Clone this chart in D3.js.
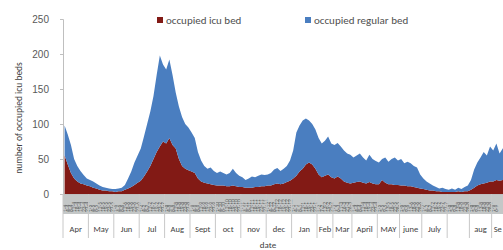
<!DOCTYPE html>
<html>
<head>
<meta charset="utf-8">
<script src="https://cdn.jsdelivr.net/npm/d3@7"></script>
<style>
  body { margin: 0; background: #fff; }
  svg { display: block; font-family: Calibri, "Liberation Sans", "DejaVu Sans", sans-serif; }
</style>
</head>
<body>
<div id="chart"></div>
<script>
// month groups on the category axis and how many data points fall in each
const monthLabels = ["Apr", "May", "Jun", "Jul", "Aug", "Sept", "oct", "nov", "dec", "Jan",
                     "Feb", "Mar", "April", "MAY", "june", "July", "", "aug", "Se"];
const monthNums   = [4, 5, 6, 7, 8, 9, 10, 11, 12, 1, 2, 3, 4, 5, 6, 7, 8, 8, 9];
const monthPoints = [8, 8, 8, 8, 8, 8, 8, 8, 8, 8, 5, 6, 8, 7, 7, 8, 7, 7, 6];

// occupied icu beds, one value per point
const icuBeds = [
  55, 42, 30, 22, 18, 15, 14, 12, 11, 9, 8, 6, 5, 5, 4, 4, 3, 4, 4, 6,
  8, 10, 13, 16, 19, 25, 32, 40, 50, 60, 68, 75, 72, 80, 70, 65, 50, 40, 36, 34,
  32, 30, 22, 18, 16, 15, 14, 13, 12, 12, 12, 11, 11, 12, 11, 10, 10, 9, 9, 9,
  10, 10, 11, 11, 12, 12, 14, 15, 14, 15, 17, 19, 22, 26, 32, 36, 42, 45, 42, 36,
  28, 24, 26, 28, 24, 22, 25, 22, 18, 16, 15, 16, 17, 18, 16, 15, 17, 15, 14, 14,
  20, 16, 14, 14, 13, 13, 12, 12, 11, 11, 10, 9, 8, 7, 6, 5, 5, 4, 4, 3,
  3, 3, 3, 3, 4, 3, 4, 4, 6, 9, 12, 14, 15, 16, 18, 18, 20, 19, 20, 20, 21
];

// occupied regular beds, one value per point
const regularBeds = [
  43, 43, 40, 28, 22, 18, 13, 10, 9, 9, 7, 6, 5, 4, 4, 3, 4, 4, 5, 7,
  14, 22, 32, 39, 46, 57, 68, 78, 90, 110, 130, 110, 106, 112, 100, 80, 75, 70, 64, 61,
  56, 50, 38, 30, 24, 21, 24, 20, 18, 20, 18, 17, 19, 24, 19, 16, 14, 11, 13, 16,
  14, 16, 17, 16, 16, 18, 21, 22, 19, 21, 23, 29, 40, 62, 66, 69, 66, 60, 58, 56,
  52, 48, 50, 54, 48, 48, 48, 46, 44, 42, 41, 36, 38, 40, 36, 33, 39, 35, 33, 31,
  30, 36, 32, 36, 39, 35, 38, 32, 35, 33, 30, 29, 20, 15, 12, 10, 7, 6, 4, 6,
  4, 3, 5, 3, 5, 4, 6, 8, 14, 26, 33, 38, 45, 39, 50, 44, 52, 39, 45, 50, 47
];

const yTicks = [0, 50, 100, 150, 200, 250];

const width = 503, height = 250;
const plotLeft = 63, plotTop = 19, plotBottom = 194;
const step = 3.175;
const nPoints = d3.sum(monthPoints);

const red = "#821a15", blue = "#4a7ec0";

const svg = d3.select("#chart").append("svg")
  .attr("width", width)
  .attr("height", height);

const x = d3.scaleLinear().domain([0, nPoints]).range([plotLeft, plotLeft + nPoints * step]);
const y = d3.scaleLinear().domain([0, 250]).range([plotBottom, plotTop]);

// build rows for the stack
const rows = icuBeds.map((v, i) => ({ i: i, icu: v, regular: regularBeds[i] }));
const stacked = d3.stack().keys(["icu", "regular"])(rows);

svg.append("clipPath").attr("id", "plotclip")
  .append("rect").attr("x", plotLeft).attr("y", 0).attr("width", width - plotLeft).attr("height", plotBottom + 1);

const area = d3.area()
  .x(d => x(d.data.i + 0.5))
  .y0(d => y(d[0]))
  .y1(d => y(d[1]))
  .curve(d3.curveLinear);

svg.append("g").attr("clip-path", "url(#plotclip)")
  .selectAll("path")
  .data(stacked)
  .join("path")
  .attr("fill", d => d.key === "icu" ? red : blue)
  .attr("d", area);

// y axis
const yAxis = svg.append("g")
  .attr("transform", `translate(${plotLeft},0)`)
  .call(d3.axisLeft(y).tickValues(yTicks).tickSize(3).tickPadding(11));
yAxis.select(".domain").attr("stroke", "#bfbfbf");
yAxis.selectAll(".tick line").attr("stroke", "#bfbfbf");
yAxis.selectAll(".tick text").attr("fill", "#595959").attr("font-size", 10);

svg.append("text")
  .attr("transform", `translate(22,118) rotate(-90)`)
  .attr("text-anchor", "middle")
  .attr("fill", "#404040")
  .attr("font-size", 9.5)
  .text("number of occupied icu beds");

// month boundaries
let acc = 0;
const months = monthLabels.map((m, k) => {
  const o = { label: m, num: monthNums[k], start: acc, end: acc + monthPoints[k], n: monthPoints[k] };
  acc += monthPoints[k];
  return o;
});

// band of daily date labels under the axis
svg.append("clipPath").attr("id", "bandclip")
  .append("rect").attr("x", plotLeft).attr("y", plotBottom).attr("width", width - plotLeft).attr("height", 22);
const band = svg.append("g").attr("clip-path", "url(#bandclip)");

band.append("rect")
  .attr("x", plotLeft).attr("y", plotBottom + 1)
  .attr("width", x(nPoints) - plotLeft).attr("height", 19)
  .attr("fill", "#c4c7c7");

const dayLabels = [];
months.forEach(mo => {
  for (let j = 0; j < mo.n; j++) {
    dayLabels.push({ i: mo.start + j, text: `${1 + Math.floor(j * 30 / mo.n)}-${mo.num}` });
  }
});

band.selectAll("text.day")
  .data(dayLabels.filter(d => x(d.i + 0.5) + 2 < width - 3))
  .join("text")
  .attr("class", "day")
  .attr("transform", d => `translate(${x(d.i + 0.5) + 2},${plotBottom + 18}) rotate(-90)`)
  .attr("font-size", 5.5)
  .attr("fill", "#5f6464")
  .text(d => d.text);

// x axis line
svg.append("line")
  .attr("x1", plotLeft).attr("x2", width)
  .attr("y1", plotBottom + 0.5).attr("y2", plotBottom + 0.5)
  .attr("stroke", "#bfbfbf");

// month separators and labels
svg.append("g")
  .selectAll("line")
  .data(months.map(m => m.start).concat([nPoints]))
  .join("line")
  .attr("x1", d => x(d)).attr("x2", d => x(d))
  .attr("y1", plotBottom).attr("y2", 238)
  .attr("stroke", "#c8c8c8");

// last month runs off the right edge, so its label starts at the separator
svg.append("g")
  .selectAll("text")
  .data(months)
  .join("text")
  .attr("x", d => x((d.start + d.end) / 2) > width - 12 ? x(d.start) + 2 : x((d.start + d.end) / 2))
  .attr("y", 232)
  .attr("text-anchor", d => x((d.start + d.end) / 2) > width - 12 ? "start" : "middle")
  .attr("fill", "#404040")
  .attr("font-size", 8.5)
  .text(d => d.label);

svg.append("text")
  .attr("x", 268).attr("y", 248)
  .attr("text-anchor", "middle")
  .attr("fill", "#404040")
  .attr("font-size", 9)
  .text("date");

// legend
const legendItems = [
  { label: "occupied icu bed", color: red, x: 157 },
  { label: "occupied regular bed", color: blue, x: 305 }
];
const lg = svg.append("g").selectAll("g")
  .data(legendItems)
  .join("g")
  .attr("transform", d => `translate(${d.x},17)`);
lg.append("rect").attr("width", 6).attr("height", 6).attr("fill", d => d.color);
lg.append("text")
  .attr("x", 9).attr("y", 7)
  .attr("fill", "#505050")
  .attr("font-size", 11)
  .text(d => d.label);
</script>
</body>
</html>
